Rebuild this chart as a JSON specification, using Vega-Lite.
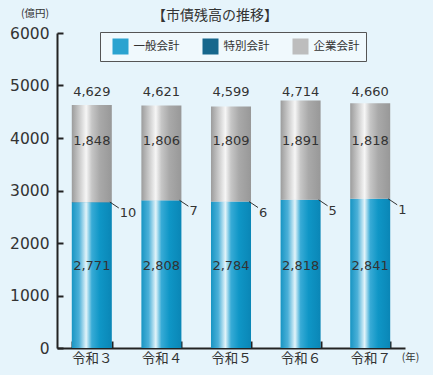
{
  "$schema": "https://vega.github.io/schema/vega-lite/v6.json",
  "width": 348,
  "height": 315,
  "autosize": "none",
  "padding": {"left": 57, "top": 33, "right": 28, "bottom": 27},
  "background": "#e6f4fb",
  "config": {
    "view": {"stroke": null},
    "font": "Noto Sans CJK JP",
    "axis": {"domainColor": "#222222", "domainWidth": 2, "tickColor": "#222222", "tickWidth": 2, "labelColor": "#333333", "titleColor": "#333333", "titleFontWeight": "normal", "grid": false}
  },
  "title": {"text": "【市債残高の推移】", "fontSize": 14, "fontWeight": "normal", "color": "#333333", "anchor": "middle", "frame": "group", "dx": -16, "offset": -15, "font": "Noto Sans CJK JP"},
  "data": {"values": [
    {"year": "令和３", "series": "一般会計", "k": 1, "value": 2771},
    {"year": "令和３", "series": "特別会計", "k": 2, "value": 10},
    {"year": "令和３", "series": "企業会計", "k": 3, "value": 1848},
    {"year": "令和４", "series": "一般会計", "k": 1, "value": 2808},
    {"year": "令和４", "series": "特別会計", "k": 2, "value": 7},
    {"year": "令和４", "series": "企業会計", "k": 3, "value": 1806},
    {"year": "令和５", "series": "一般会計", "k": 1, "value": 2784},
    {"year": "令和５", "series": "特別会計", "k": 2, "value": 6},
    {"year": "令和５", "series": "企業会計", "k": 3, "value": 1809},
    {"year": "令和６", "series": "一般会計", "k": 1, "value": 2818},
    {"year": "令和６", "series": "特別会計", "k": 2, "value": 5},
    {"year": "令和６", "series": "企業会計", "k": 3, "value": 1891},
    {"year": "令和７", "series": "一般会計", "k": 1, "value": 2841},
    {"year": "令和７", "series": "特別会計", "k": 2, "value": 1},
    {"year": "令和７", "series": "企業会計", "k": 3, "value": 1818}
  ]},
  "transform": [
    {"stack": "value", "groupby": ["year"], "sort": [{"field": "k", "order": "ascending"}], "as": ["v0", "v1"]}
  ],
  "encoding": {
    "x": {
      "field": "year", "type": "nominal", "sort": null,
      "scale": {"paddingInner": 0.425, "paddingOuter": 0.2125},
      "axis": {
        "title": "(年)", "titleX": 353, "titleY": 9, "titleAlign": "center", "titleBaseline": "middle",
        "titleFontSize": 10.5, "titleFont": "Noto Sans CJK JP",
        "labelAngle": 0, "labelFontSize": 13.5, "labelFont": "Noto Sans CJK JP", "labelPadding": 10,
        "tickBand": "extent", "tickSize": -7
      }
    }
  },
  "layer": [
    {
      "transform": [{"filter": "datum.series === '一般会計'"}],
      "mark": {"type": "bar", "color": {"gradient": "linear", "x1": 0, "y1": 0, "x2": 1, "y2": 0, "stops": [
        {"offset": 0, "color": "#1895c3"}, {"offset": 0.18, "color": "#4bb0d8"}, {"offset": 0.36, "color": "#e2f4fa"},
        {"offset": 0.5, "color": "#38abd6"}, {"offset": 0.7, "color": "#0f96c6"}, {"offset": 1, "color": "#0a86b6"}]}},
      "encoding": {
        "y": {"field": "v0", "type": "quantitative", "scale": {"domain": [0, 6000], "nice": false},
          "axis": {
            "title": "(億円)", "titleAngle": 0, "titleX": -22.5, "titleY": -20, "titleAlign": "center", "titleBaseline": "middle",
            "titleFontSize": 10.5, "titleFont": "Noto Sans CJK JP",
            "values": [0, 1000, 2000, 3000, 4000, 5000, 6000], "format": "d",
            "labelFont": "DejaVu Sans", "labelFontSize": 15.5, "labelPadding": 14,
            "tickSize": -6
          }},
        "y2": {"field": "v1"}
      }
    },
    {
      "transform": [{"filter": "datum.series === '特別会計'"}],
      "mark": {"type": "bar", "color": {"gradient": "linear", "x1": 0, "y1": 0, "x2": 1, "y2": 0, "stops": [
        {"offset": 0, "color": "#0a4c6c"}, {"offset": 0.18, "color": "#3f8fb0"}, {"offset": 0.36, "color": "#b8dfec"},
        {"offset": 0.5, "color": "#2a88ab"}, {"offset": 0.7, "color": "#0d6a90"}, {"offset": 1, "color": "#0a5478"}]}},
      "encoding": {
        "y": {"field": "v0", "type": "quantitative"},
        "y2": {"field": "v1"}
      }
    },
    {
      "transform": [{"filter": "datum.series === '企業会計'"}],
      "mark": {"type": "bar", "color": {"gradient": "linear", "x1": 0, "y1": 0, "x2": 1, "y2": 0, "stops": [
        {"offset": 0, "color": "#9c9c9c"}, {"offset": 0.18, "color": "#c8c8c8"}, {"offset": 0.36, "color": "#f6f6f6"},
        {"offset": 0.5, "color": "#c6c6c6"}, {"offset": 0.7, "color": "#a9a9a9"}, {"offset": 1, "color": "#989898"}]}},
      "encoding": {
        "y": {"field": "v0", "type": "quantitative"},
        "y2": {"field": "v1"}
      }
    },
    {
      "mark": {"type": "square", "opacity": 0, "filled": true},
      "encoding": {
        "y": {"field": "v1", "type": "quantitative"},
        "color": {"field": "series", "type": "nominal",
          "scale": {"domain": ["一般会計", "特別会計", "企業会計"], "range": ["#2aa3d0", "#16678c", "#bdbdbd"]},
          "legend": {
            "title": null, "orient": "none", "legendX": 43, "legendY": -1, "direction": "horizontal",
            "fillColor": "#f0f9fd", "strokeColor": "#555555", "padding": 6.5,
            "symbolType": "square", "symbolSize": 256, "symbolOffset": 6, "symbolStrokeWidth": 0, "symbolOpacity": 1,
            "labelFont": "Noto Sans CJK JP", "labelFontSize": 11.5, "labelColor": "#333333", "labelOffset": 5,
            "columnPadding": 17
          }}
      }
    },
    {
      "transform": [{"filter": "datum.series === '特別会計'"}],
      "mark": {"type": "rule", "color": "#333333", "strokeWidth": 1, "xOffset": 18, "x2Offset": 27, "y2Offset": 6},
      "encoding": {
        "x2": {"field": "year"},
        "y": {"field": "v1", "type": "quantitative"},
        "y2": {"field": "v1"}
      }
    },
    {
      "transform": [{"filter": "datum.series === '特別会計'"}],
      "mark": {"type": "text", "align": "left", "baseline": "middle", "dx": 28, "dy": 11, "font": "DejaVu Sans", "fontSize": 13, "color": "#333333"},
      "encoding": {
        "y": {"field": "v1", "type": "quantitative"},
        "text": {"field": "value", "type": "quantitative", "format": ",d"}
      }
    },
    {
      "transform": [{"filter": "datum.series === '一般会計'"}],
      "mark": {"type": "text", "align": "center", "baseline": "middle", "font": "DejaVu Sans", "fontSize": 13, "color": "#333333"},
      "encoding": {
        "y": {"datum": 1562, "type": "quantitative"},
        "text": {"field": "value", "type": "quantitative", "format": ",d"}
      }
    },
    {
      "transform": [{"filter": "datum.series === '企業会計'"}],
      "mark": {"type": "text", "align": "center", "baseline": "middle", "font": "DejaVu Sans", "fontSize": 13, "color": "#333333"},
      "encoding": {
        "y": {"datum": 3940, "type": "quantitative"},
        "text": {"field": "value", "type": "quantitative", "format": ",d"}
      }
    },
    {
      "transform": [{"aggregate": [{"op": "sum", "field": "value", "as": "total"}], "groupby": ["year"]}],
      "mark": {"type": "text", "align": "center", "baseline": "middle", "font": "DejaVu Sans", "fontSize": 13, "color": "#333333"},
      "encoding": {
        "y": {"datum": 4885, "type": "quantitative"},
        "text": {"field": "total", "type": "quantitative", "format": ",d"}
      }
    }
  ]
}
